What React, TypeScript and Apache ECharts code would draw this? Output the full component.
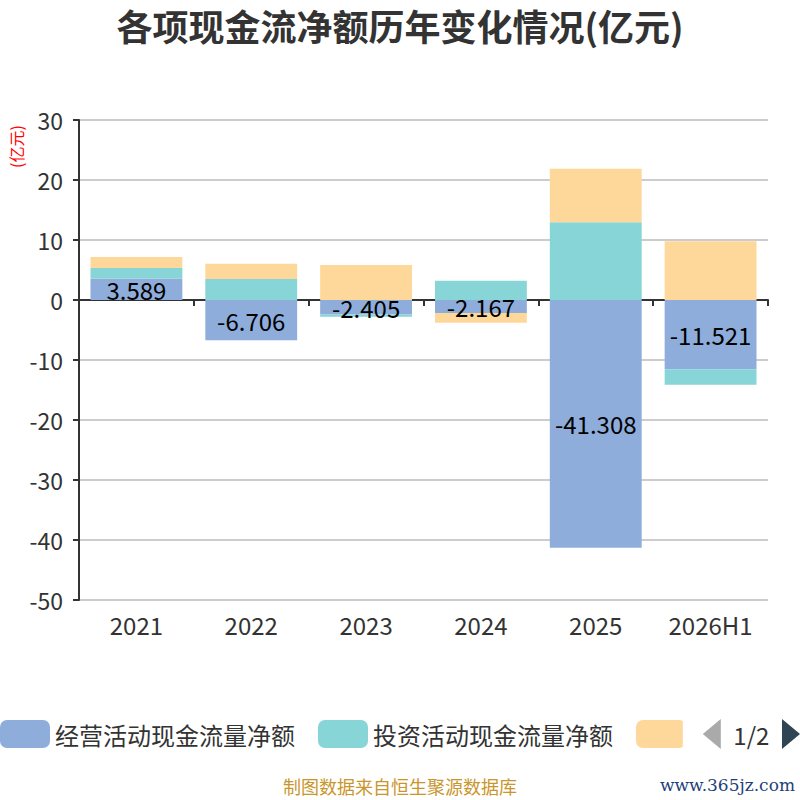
import React, { useEffect, useRef } from "react";
import * as echarts from "echarts";

const categories = ["2021", "2022", "2023", "2024", "2025", "2026H1"];
const operating = [3.589, -6.706, -2.405, -2.167, -41.308, -11.521];
const investing = [1.75, 3.5, -0.37, 3.22, 12.95, -2.6];
const financing = [1.83, 2.55, 5.83, -1.61, 8.93, 9.78];
const seriesNames = ["经营活动现金流量净额", "投资活动现金流量净额", "筹资活动现金流量净额"];
const yTicks = { min: -50, max: 30, interval: 10 };

export default function App() {
  const ref = useRef<HTMLDivElement>(null);
  useEffect(() => {
    if (!ref.current) return;
    const chart = echarts.init(ref.current, undefined, { renderer: "svg" });
    const font = "'Noto Sans CJK SC', 'Noto Sans', sans-serif";
    chart.setOption({
      animation: false,
      color: ["#8eaddb", "#88d5d8", "#fed89a"],
      textStyle: { fontFamily: font },
      title: {
        text: "各项现金流净额历年变化情况(亿元)",
        left: "center",
        top: 2,
        textStyle: { fontSize: 36, fontWeight: "bold", color: "#333", fontFamily: font },
      },
      grid: { left: 79, right: 32, top: 120, bottom: 200 },
      legend: {
        type: "scroll",
        left: 0,
        right: 0,
        bottom: 51,
        padding: 0,
        itemWidth: 50,
        itemHeight: 28,
        itemGap: 23,
        itemTextGap: 12,
        icon: "roundRect",
        textStyle: { fontSize: 24, color: "#333" },
        pageTextStyle: { fontSize: 24, color: "#333" },
        pageIconSize: [18, 32],
        pageButtonItemGap: 2,
        pageButtonGap: 20,
        pageIconColor: "#2f4554",
        pageIconInactiveColor: "#aaa",
        data: seriesNames,
      },
      xAxis: {
        type: "category",
        data: categories,
        axisLine: { onZero: true, lineStyle: { color: "#333", width: 2 } },
        axisTick: { show: true, length: 6, lineStyle: { color: "#333", width: 2 } },
        axisLabel: { fontSize: 24, color: "#333", margin: 12 },
      },
      yAxis: {
        type: "value",
        min: yTicks.min,
        max: yTicks.max,
        interval: yTicks.interval,
        axisLine: { show: true, lineStyle: { color: "#333", width: 2 } },
        axisTick: { show: true, length: 6, lineStyle: { color: "#333", width: 2 } },
        axisLabel: { fontSize: 23, color: "#333", margin: 16 },
        splitLine: { lineStyle: { color: "#ccc", width: 2 } },
      },
      graphic: [
        {
          type: "text",
          x: 8,
          y: 168,
          rotation: Math.PI / 2,
          style: { text: "(亿元)", fill: "#ff0000", fontSize: 16, fontFamily: font },
        },
        {
          type: "text",
          left: "center",
          top: 777,
          style: { text: "制图数据来自恒生聚源数据库", fill: "#c9962d", fontSize: 18, fontFamily: font },
        },
        {
          type: "text",
          right: 5,
          top: 776,
          style: { text: "www.365jz.com", fill: "#1e3f7a", fontSize: 17, fontFamily: "'DejaVu Serif', serif" },
        },
      ],
      series: [
        {
          name: seriesNames[0],
          type: "bar",
          stack: "total",
          barWidth: "80%",
          data: operating,
          label: { show: true, position: "inside", color: "#000", fontSize: 24 },
        },
        { name: seriesNames[1], type: "bar", stack: "total", data: investing },
        { name: seriesNames[2], type: "bar", stack: "total", data: financing },
      ],
    });
    return () => chart.dispose();
  }, []);
  return <div ref={ref} style={{ position: "absolute", left: 0, top: 0, width: 800, height: 800 }} />;
}
